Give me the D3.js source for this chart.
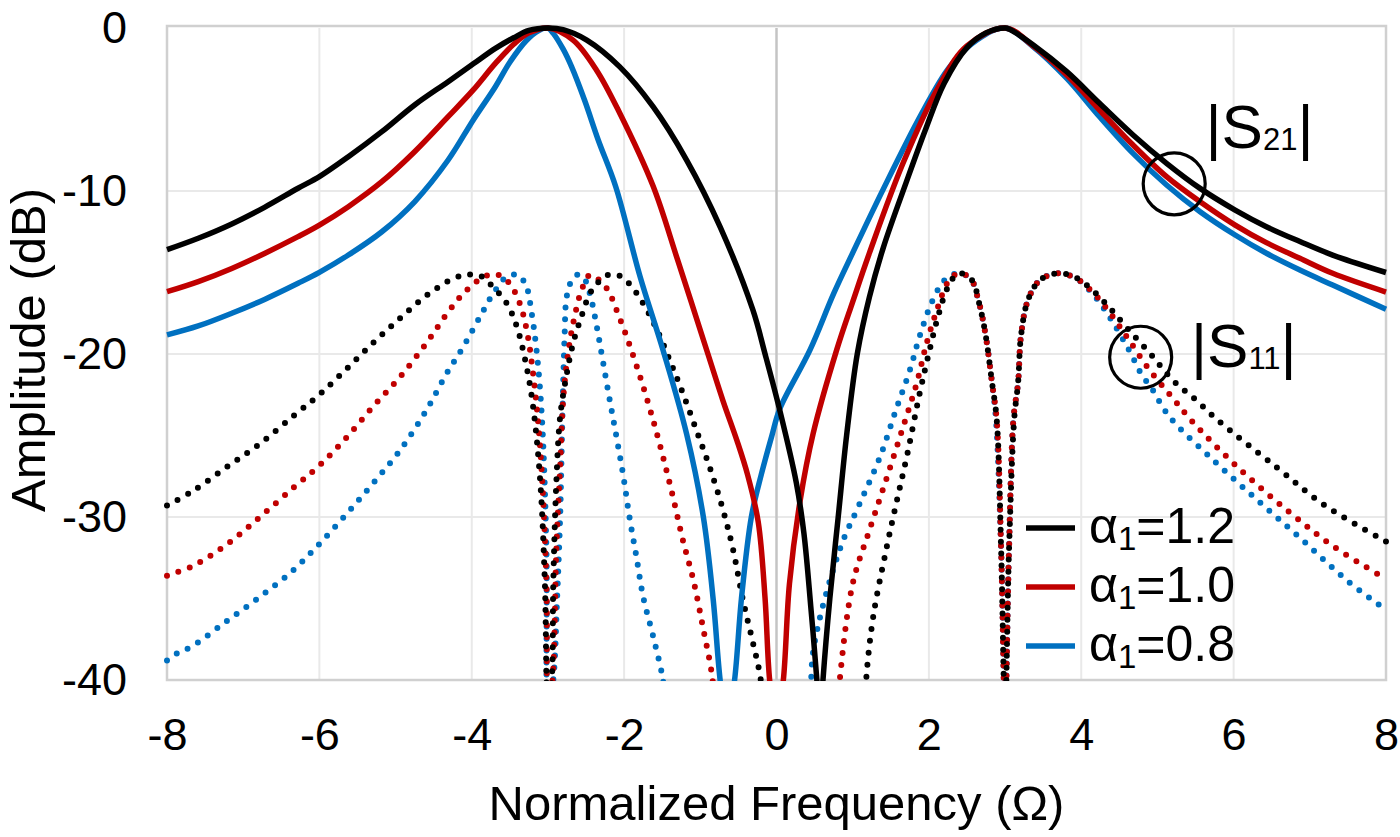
<!DOCTYPE html>
<html>
<head>
<meta charset="utf-8">
<script src="https://cdn.jsdelivr.net/npm/d3@7"></script>
<style>
  html, body { margin: 0; padding: 0; background: #ffffff; }
  svg text { font-family: "Liberation Sans", Arial, sans-serif; fill: #000000; }
</style>
</head>
<body>
<div id="chart-container"></div>
<script>
// axis ticks
const omegaTicks = [-8, -6, -4, -2, 0, 2, 4, 6, 8];
const dbTicks = [0, -10, -20, -30, -40];
const alphaLabels = ['1.2', '1.0', '0.8'];

// |S21| as [Ω, dB]
const s21Alpha12 = [
  [-8.00,-13.6],[-7.59,-12.9],[-7.15,-12.02],[-6.72,-11.0],[-6.28,-9.83],[-6.00,-9.12],
  [-5.62,-7.9],[-5.18,-6.36],[-4.75,-4.72],[-4.31,-3.29],[-3.98,-2.2],[-3.69,-1.25],
  [-3.45,-0.6],[-3.25,-0.15],[-3.00,0],[-2.80,-0.1],[-2.49,-0.74],[-2.06,-2.37],
  [-1.62,-4.83],[-1.18,-8.1],[-0.74,-12.2],[-0.31,-17.3],[-0.15,-20.0],[0.04,-23.4],
  [0.26,-27.9],[0.36,-31.0],[0.45,-35.5],[0.53,-40],[0.57,-43],[0.61,-40],[0.70,-35.0],
  [0.81,-30.0],[0.92,-25.0],[1.06,-20.0],[1.22,-16.5],[1.40,-13.5],[1.70,-9.5],
  [1.95,-6.3],[2.20,-3.4],[2.50,-1.2],[2.75,-0.3],[3.00,0],[3.06,-0.08],[3.37,-1.04],
  [3.81,-2.68],[4.24,-4.62],[4.68,-6.56],[5.12,-8.3],[5.56,-9.84],[6.02,-11.17],
  [6.43,-12.19],[6.87,-13.1],[7.30,-13.93],[8.00,-15.0]
];
const s21Alpha10 = [
  [-8.00,-16.18],[-7.59,-15.56],[-7.15,-14.75],[-6.72,-13.83],[-6.28,-12.8],[-6.00,-12.09],
  [-5.62,-10.96],[-5.18,-9.43],[-4.75,-7.59],[-4.31,-5.44],[-3.98,-3.8],[-3.69,-2.17],
  [-3.45,-1.0],[-3.25,-0.3],[-3.00,0],[-2.67,-0.74],[-2.36,-2.6],[-2.06,-5.2],
  [-1.62,-9.7],[-1.30,-14.2],[-0.90,-20.0],[-0.70,-22.9],[-0.52,-25.3],[-0.38,-27.4],
  [-0.24,-30.3],[-0.15,-35.0],[-0.09,-40],[0.00,-43],[0.09,-40],[0.17,-34.1],[0.31,-29.0],
  [0.48,-24.9],[0.79,-19.75],[1.00,-16.8],[1.22,-13.8],[1.66,-8.3],[2.14,-3.5],
  [2.50,-1.1],[3.00,0],[3.37,-1.1],[3.81,-2.88],[4.24,-5.03],[4.68,-7.18],[5.12,-9.12],
  [5.56,-10.66],[6.02,-12.09],[6.43,-13.17],[6.87,-14.13],[7.30,-15.05],[8.00,-16.2]
];
const s21Alpha08 = [
  [-8.00,-18.83],[-7.59,-18.28],[-7.15,-17.5],[-6.72,-16.65],[-6.28,-15.66],[-6.00,-14.99],
  [-5.62,-13.93],[-5.18,-12.5],[-4.75,-10.66],[-4.31,-8.1],[-3.98,-5.64],[-3.69,-3.6],
  [-3.50,-2.1],[-3.28,-0.75],[-3.12,-0.15],[-3.00,0],[-2.93,-0.33],[-2.80,-1.3],
  [-2.69,-2.37],[-2.52,-4.42],[-2.34,-6.87],[-2.11,-9.74],[-1.79,-15.26],[-1.49,-19.75],
  [-1.18,-24.9],[-0.96,-30.0],[-0.83,-35.1],[-0.74,-40],[-0.65,-43],[-0.55,-40],
  [-0.46,-35.0],[-0.33,-30.0],[-0.20,-27.4],[-0.06,-25.0],[0.04,-23.4],[0.44,-19.75],
  [0.75,-16.3],[1.00,-13.8],[1.40,-9.9],[1.90,-5.3],[2.27,-2.4],[2.63,-0.74],[3.00,0],
  [3.37,-1.15],[3.81,-3.09],[4.24,-5.44],[4.68,-7.69],[5.12,-9.63],[5.56,-11.27],
  [6.02,-12.7],[6.43,-13.82],[6.87,-14.85],[7.30,-15.77],[8.00,-17.25]
];

// |S11|, null marks where the trace runs below -40 dB
const s11Alpha12 = [
  [-8.00,-29.3],[-7.66,-28.4],[-7.22,-26.95],[-6.78,-25.5],[-6.34,-23.8],[-5.99,-22.45],
  [-5.64,-20.9],[-5.29,-19.3],[-4.94,-17.8],[-4.59,-16.4],[-4.24,-15.36],[-4.07,-15.15],
  [-3.89,-15.2],[-3.72,-15.9],[-3.54,-16.9],[-3.41,-18.3],[-3.28,-20.8],[-3.19,-23.4],
  [-3.10,-27.9],[-3.04,-34.1],[-3.00,-42],[-2.95,-40],[-2.93,-34.1],[-2.89,-27.9],
  [-2.84,-23.85],[-2.76,-21.4],[-2.67,-19.35],[-2.56,-17.7],[-2.45,-16.3],[-2.34,-15.6],
  [-2.21,-15.15],[-2.06,-15.2],[-1.93,-15.7],[-1.75,-16.9],[-1.57,-18.5],[-1.40,-20.4],
  [-1.23,-22.4],[-1.05,-24.7],[-0.88,-26.9],[-0.70,-29.6],[-0.57,-32.0],[-0.44,-35.1],
  [-0.31,-37.7],[-0.22,-39.6],[-0.15,-42],
  null,
  [1.16,-42],[1.18,-39.8],[1.27,-36.1],[1.44,-32.0],[1.57,-29.2],[1.71,-26.3],[1.88,-22.4],
  [2.01,-19.75],[2.12,-17.7],[2.25,-15.9],[2.39,-15.05],[2.57,-15.5],[2.65,-16.7],
  [2.74,-18.7],[2.83,-21.8],[2.89,-24.0],[2.95,-32.3],[3.00,-42],[3.05,-32.3],[3.12,-24.0],
  [3.17,-21.8],[3.21,-18.85],[3.30,-16.7],[3.45,-15.5],[3.68,-15.05],[3.91,-15.26],
  [4.15,-16.1],[4.38,-17.2],[4.62,-18.5],[4.91,-20.0],[5.20,-21.6],[5.50,-22.8],
  [5.79,-24.05],[6.55,-26.9],[7.20,-29.3],[8.00,-31.5]
];
const s11Alpha10 = [
  [-8.00,-33.6],[-7.66,-33.0],[-7.22,-31.7],[-6.78,-30.0],[-6.34,-28.2],[-5.99,-26.8],
  [-5.64,-25.1],[-5.29,-23.2],[-4.94,-21.4],[-4.59,-19.3],[-4.29,-17.3],[-4.07,-16.1],
  [-3.81,-15.2],[-3.65,-15.15],[-3.50,-15.7],[-3.37,-16.9],[-3.28,-18.5],[-3.19,-21.4],
  [-3.10,-25.9],[-3.02,-34.1],[-3.00,-42],[-2.94,-40],[-2.89,-32.0],[-2.84,-26.9],
  [-2.80,-22.8],[-2.73,-19.75],[-2.65,-17.7],[-2.56,-16.1],[-2.45,-15.15],[-2.32,-15.5],
  [-2.21,-16.1],[-2.10,-17.3],[-1.97,-18.9],[-1.86,-20.4],[-1.75,-22.0],[-1.62,-24.05],
  [-1.49,-26.3],[-1.36,-28.75],[-1.23,-31.4],[-1.09,-33.9],[-0.96,-36.9],[-0.85,-39.6],
  [-0.80,-42],
  null,
  [0.80,-42],[0.83,-40],[1.00,-34.1],[1.22,-30.8],[1.44,-27.7],[1.66,-24.5],[1.84,-21.8],
  [1.97,-19.35],[2.12,-17.1],[2.25,-15.6],[2.39,-15.05],[2.55,-15.4],[2.65,-16.7],
  [2.74,-18.7],[2.83,-21.8],[2.89,-24.0],[2.95,-32.3],[3.00,-42],[3.05,-32.3],[3.11,-24.0],
  [3.17,-21.8],[3.21,-18.85],[3.30,-16.7],[3.45,-15.5],[3.68,-15.05],[3.91,-15.3],
  [4.15,-16.2],[4.38,-17.5],[4.62,-19.1],[4.90,-21.0],[5.20,-22.7],[5.45,-24.1],
  [6.02,-26.8],[6.73,-29.7],[7.31,-31.8],[8.00,-33.8]
];
const s11Alpha08 = [
  [-8.00,-38.8],[-7.92,-38.5],[-7.66,-37.9],[-7.22,-36.4],[-6.78,-34.9],[-6.34,-33.25],
  [-5.99,-31.6],[-5.64,-29.8],[-5.29,-27.9],[-4.94,-25.9],[-4.59,-23.4],[-4.33,-21.2],
  [-4.11,-19.55],[-3.89,-17.7],[-3.72,-16.3],[-3.54,-15.26],[-3.39,-15.15],[-3.28,-15.9],
  [-3.22,-17.3],[-3.15,-19.75],[-3.08,-23.85],[-3.02,-32.0],[-3.00,-42],[-2.93,-40],
  [-2.88,-35.0],[-2.84,-30.0],[-2.82,-25.9],[-2.80,-21.8],[-2.78,-18.7],[-2.76,-16.7],
  [-2.71,-15.7],[-2.62,-15.15],[-2.54,-15.26],[-2.45,-16.3],[-2.36,-18.3],[-2.28,-20.4],
  [-2.19,-22.8],[-2.10,-25.1],[-2.01,-27.5],[-1.93,-30.0],[-1.84,-32.4],[-1.75,-34.9],
  [-1.62,-37.3],[-1.49,-40],[-1.45,-42],
  null,
  [0.46,-42],[0.48,-38.3],[0.83,-32.0],[1.09,-29.2],[1.36,-26.3],[1.57,-23.4],[1.75,-21.0],
  [1.88,-18.9],[2.05,-16.7],[2.22,-15.4],[2.39,-15.05],[2.55,-15.4],[2.65,-16.7],
  [2.74,-18.7],[2.83,-21.8],[2.88,-24.0],[2.95,-32.3],[3.00,-42],[3.05,-32.3],[3.11,-24.0],
  [3.17,-21.8],[3.21,-18.85],[3.30,-16.7],[3.45,-15.5],[3.68,-15.05],[3.91,-15.3],
  [4.15,-16.3],[4.38,-17.8],[4.62,-19.7],[4.81,-21.4],[4.91,-22.0],[5.15,-23.8],
  [5.73,-26.5],[6.32,-29.0],[6.90,-31.4],[7.49,-33.9],[8.00,-35.7]
];

// callouts: circle centre and label anchor, in data units
const callouts = [
  { name: 'S', sub: '21', circle: [5.22, -9.56], label: [5.63, -7.36] },
  { name: 'S', sub: '11', circle: [4.78, -20.2], label: [5.44, -20.8] }
];

class FilterResponseChart {
    constructor(containerId) {
        this.containerId = containerId;
        this.dimensions = {
            width: 1400,
            height: 837,
            left: 167,
            right: 1386,
            top: 28,
            bottom: 680
        };
        this.colors = {
            black: '#000000',
            red: '#c00000',
            blue: '#0070c0',
            grid: '#e9e9e9',
            border: '#d0d0d0',
            zero: '#c4c4c4'
        };
    }

    createChart() {
        const { width, height, left, right, top, bottom } = this.dimensions;

        d3.select(this.containerId).selectAll('*').remove();

        const svg = d3.select(this.containerId)
            .append('svg')
            .attr('width', width)
            .attr('height', height)
            .attr('viewBox', `0 0 ${width} ${height}`);

        const xScale = d3.scaleLinear().domain([-8, 8]).range([left, right]);
        const yScale = d3.scaleLinear().domain([-40, 0]).range([bottom, top]);

        // keep curves inside the plot, a little room at the top for the peaks
        svg.append('defs').append('clipPath')
            .attr('id', 'plot-clip')
            .append('rect')
            .attr('x', left - 4)
            .attr('y', top - 6)
            .attr('width', right - left + 8)
            .attr('height', bottom - top + 7);

        // grid
        const grid = svg.append('g').attr('class', 'grid');
        grid.selectAll('.vgrid')
            .data(omegaTicks.filter(d => d !== 0 && Math.abs(d) !== 8))
            .enter()
            .append('line')
            .attr('x1', d => xScale(d)).attr('x2', d => xScale(d))
            .attr('y1', top).attr('y2', bottom)
            .attr('stroke', this.colors.grid)
            .attr('stroke-width', 2);
        grid.selectAll('.hgrid')
            .data(dbTicks.filter(d => d !== 0 && d !== -40))
            .enter()
            .append('line')
            .attr('x1', left).attr('x2', right)
            .attr('y1', d => yScale(d)).attr('y2', d => yScale(d))
            .attr('stroke', this.colors.grid)
            .attr('stroke-width', 2);

        // plot border and the vertical axis line at zero
        svg.append('rect')
            .attr('x', left).attr('y', top - 2)
            .attr('width', right - left).attr('height', bottom - top + 2)
            .attr('fill', 'none')
            .attr('stroke', this.colors.border)
            .attr('stroke-width', 2.5);
        svg.append('line')
            .attr('x1', xScale(0)).attr('x2', xScale(0))
            .attr('y1', top).attr('y2', bottom)
            .attr('stroke', this.colors.zero)
            .attr('stroke-width', 2.5);

        // axes
        const xAxis = d3.axisBottom(xScale)
            .tickValues(omegaTicks)
            .tickSize(0)
            .tickPadding(38)
            .tickFormat(d => String(d));
        const yAxis = d3.axisLeft(yScale)
            .tickValues(dbTicks)
            .tickSize(0)
            .tickPadding(40)
            .tickFormat(d => String(d));

        const gx = svg.append('g')
            .attr('transform', `translate(0, ${bottom})`)
            .call(xAxis);
        const gy = svg.append('g')
            .attr('transform', `translate(${left}, 0)`)
            .call(yAxis);
        [gx, gy].forEach(g => {
            g.select('.domain').remove();
            g.selectAll('text')
                .attr('fill', '#000')
                .style('font-size', '45px')
                .style('font-family', '"Liberation Sans", Arial, sans-serif');
        });

        // curves
        const line = d3.line()
            .defined(d => d !== null)
            .x(d => xScale(d[0]))
            .y(d => yScale(d[1]))
            .curve(d3.curveCatmullRom.alpha(0.5));

        const plot = svg.append('g').attr('clip-path', 'url(#plot-clip)');

        const s11Series = [
            { data: s11Alpha08, color: this.colors.blue },
            { data: s11Alpha10, color: this.colors.red },
            { data: s11Alpha12, color: this.colors.black }
        ];
        const s21Series = [
            { data: s21Alpha08, color: this.colors.blue },
            { data: s21Alpha10, color: this.colors.red },
            { data: s21Alpha12, color: this.colors.black }
        ];

        plot.selectAll('.s11')
            .data(s11Series)
            .enter()
            .append('path')
            .attr('class', 's11')
            .attr('d', d => line(d.data))
            .attr('fill', 'none')
            .attr('stroke', d => d.color)
            .attr('stroke-width', 6)
            .attr('stroke-linecap', 'round')
            .attr('stroke-dasharray', '0 12');

        plot.selectAll('.s21')
            .data(s21Series)
            .enter()
            .append('path')
            .attr('class', 's21')
            .attr('d', d => line(d.data))
            .attr('fill', 'none')
            .attr('stroke', d => d.color)
            .attr('stroke-width', 5.5);

        // callout circles and labels
        callouts.forEach(c => {
            svg.append('circle')
                .attr('cx', xScale(c.circle[0]))
                .attr('cy', yScale(c.circle[1]))
                .attr('r', 31)
                .attr('fill', 'none')
                .attr('stroke', '#000')
                .attr('stroke-width', 3.2);
            const t = svg.append('text')
                .attr('x', xScale(c.label[0]))
                .attr('y', yScale(c.label[1]))
                .style('font-size', '62px');
            t.append('tspan').text('|' + c.name);
            t.append('tspan').attr('dy', 2).style('font-size', '31px').text(c.sub);
            t.append('tspan').attr('dy', -2).text('|');
        });

        // legend (solid traces only)
        const legendColors = [this.colors.black, this.colors.red, this.colors.blue];
        const legend = svg.append('g').attr('class', 'legend');
        alphaLabels.forEach((label, i) => {
            const y = 528 + i * 59;
            legend.append('line')
                .attr('x1', 1026).attr('x2', 1075)
                .attr('y1', y).attr('y2', y)
                .attr('stroke', legendColors[i])
                .attr('stroke-width', 5.5);
            const t = legend.append('text')
                .attr('x', 1089)
                .attr('y', y + 15)
                .style('font-size', '50px');
            t.append('tspan').text('α');
            t.append('tspan').attr('dy', 7).style('font-size', '33px').text('1');
            t.append('tspan').attr('dy', -7).text('=' + label);
        });

        // axis titles
        svg.append('text')
            .attr('x', (left + right) / 2)
            .attr('y', 820)
            .style('text-anchor', 'middle')
            .style('font-size', '49px')
            .text('Normalized Frequency (Ω)');

        svg.append('text')
            .attr('transform', `translate(45, ${(top + bottom) / 2 - 4}) rotate(-90)`)
            .style('text-anchor', 'middle')
            .style('font-size', '49px')
            .text('Amplitude (dB)');
    }
}

document.addEventListener('DOMContentLoaded', () => {
    const chart = new FilterResponseChart('#chart-container');
    chart.createChart();
});
</script>
</body>
</html>
